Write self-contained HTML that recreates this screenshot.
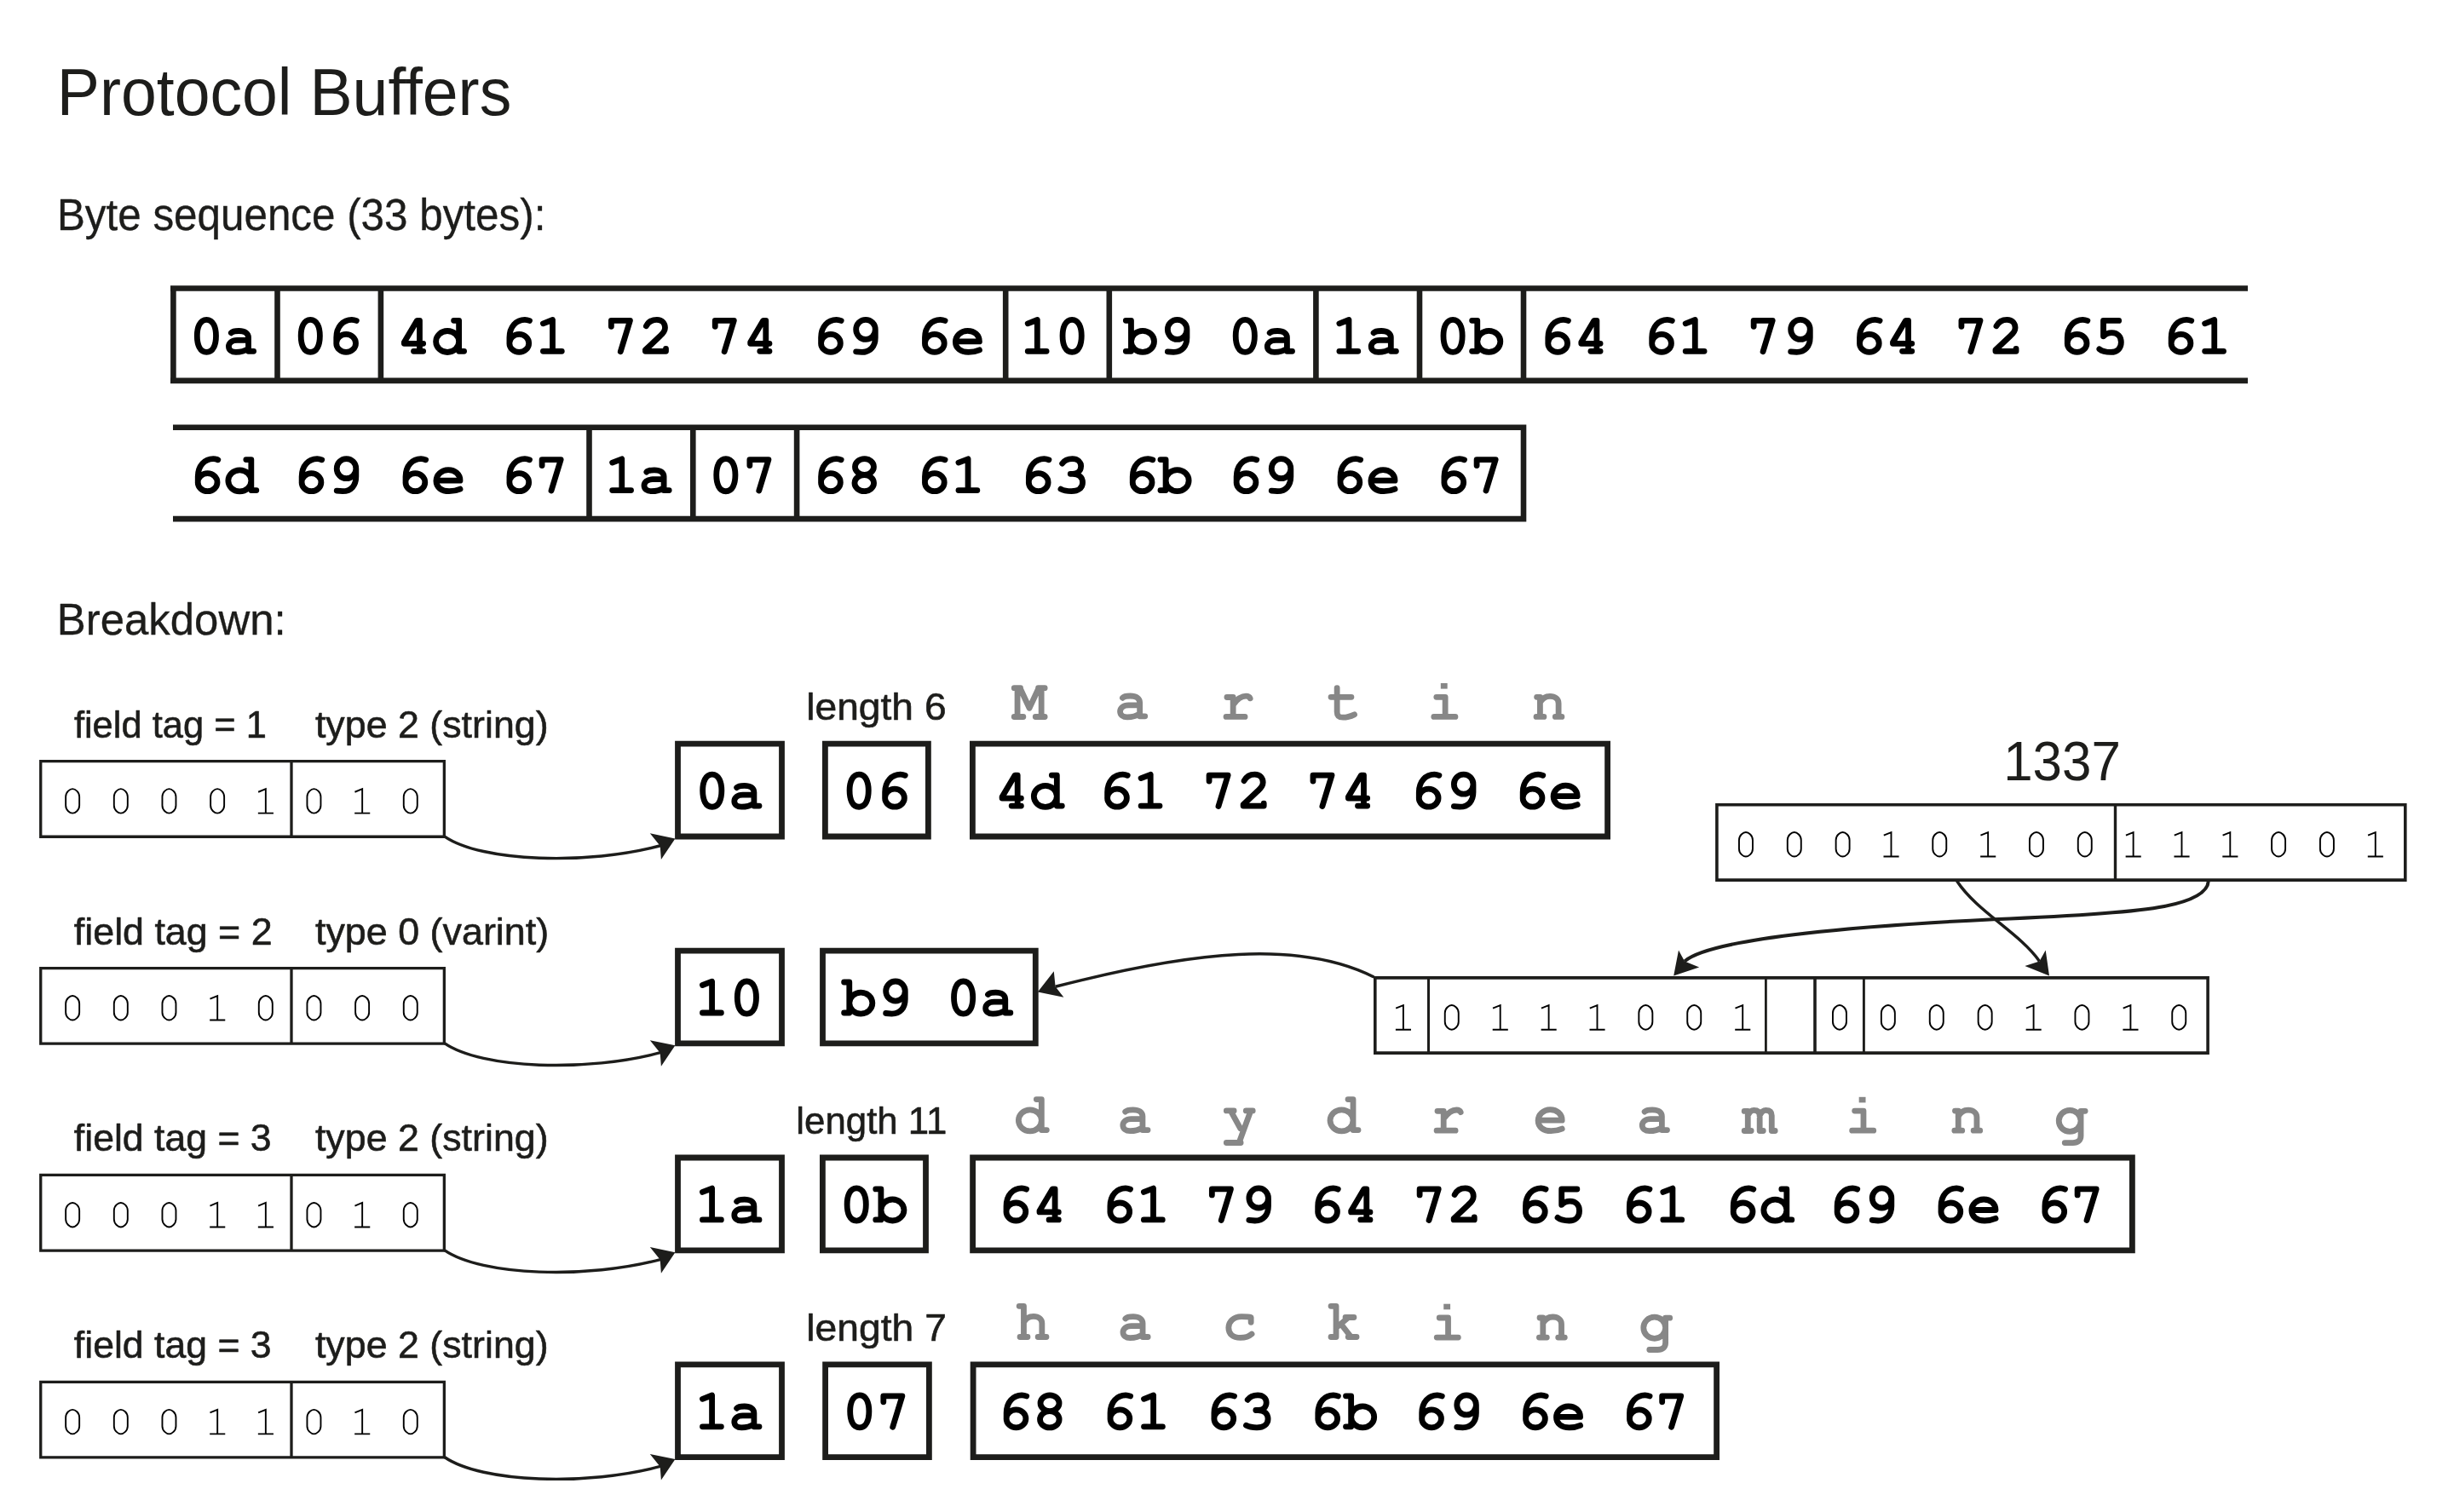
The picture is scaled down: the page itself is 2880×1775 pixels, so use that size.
<!DOCTYPE html>
<html><head><meta charset="utf-8"><style>
html,body{margin:0;padding:0;background:#fff;}
body{width:2880px;height:1775px;overflow:hidden;}
svg{display:block;will-change:transform;}
</style></head><body>
<svg width="2880" height="1775" viewBox="0 0 2880 1775">
<defs><g id="g_0"><path d="M18.7 -41 C26.5 -41, 29.8 -32, 29.8 -22 C29.8 -11.5, 26.5 -2.86, 18.7 -2.86 C10.9 -2.86, 7.6 -11.5, 7.6 -22 C7.6 -32, 10.9 -41, 18.7 -41 Z" fill="none" stroke="currentColor" stroke-width="6.8" stroke-linecap="round" stroke-linejoin="round"/></g>
<g id="g_1"><path d="M7.4 -36.5 L18.5 -40.8 L18.5 -4 M7.4 -4 L29.3 -4" fill="none" stroke="currentColor" stroke-width="6.8" stroke-linecap="round" stroke-linejoin="round"/></g>
<g id="g_2"><path d="M6.5 -33.5 C9 -38.5, 13 -41, 19 -41 C25.5 -41, 28.6 -36.5, 28.6 -31.5 C28.6 -27.5, 26.5 -25, 22.5 -21.5 L5.5 -5.5 L5.5 -4 L29.6 -4 L29.6 -7" fill="none" stroke="currentColor" stroke-width="6.8" stroke-linecap="round" stroke-linejoin="round"/></g>
<g id="g_3"><path d="M7.2 -35.5 C10 -39.5, 14 -41, 19 -41 C25.5 -41, 29.2 -37, 29.2 -32.3 C29.2 -27, 25 -23.3, 19.5 -23.3 L16.8 -23.3 M19.5 -23.3 C27 -23.3, 31.1 -19, 31.1 -13 C31.1 -7, 26 -2.9, 18 -2.9 C12 -2.9, 8.5 -3.8, 5.5 -5.5" fill="none" stroke="currentColor" stroke-width="6.8" stroke-linecap="round" stroke-linejoin="round"/></g>
<g id="g_4"><path d="M25 -40 L25 -4 M18 -4 L29.2 -4 M6.9 -13 L29.2 -13 M25 -40 L22 -40 L6.9 -14.5 L6.9 -13" fill="none" stroke="currentColor" stroke-width="6.8" stroke-linecap="round" stroke-linejoin="round"/></g>
<g id="g_5"><path d="M28.3 -39.9 L10.15 -39.9 L10.15 -21.5 C13 -24.5, 16 -25.75, 20 -25.75 C27 -25.75, 31 -21, 31 -14.5 C31 -7, 26 -2.9, 19 -2.9 C12 -2.9, 8.5 -4, 5.5 -6.5" fill="none" stroke="currentColor" stroke-width="6.8" stroke-linecap="round" stroke-linejoin="round"/></g>
<g id="g_6"><path d="M8.50 -13.40 A11.4 10.5 0 1 0 31.30 -13.40 A11.4 10.5 0 1 0 8.50 -13.40 Z M8.55 -13 L8.55 -20 C8.55 -33, 16.6 -41, 26.6 -41 C29 -41, 30.6 -40.5, 32.1 -39.8" fill="none" stroke="currentColor" stroke-width="6.8" stroke-linecap="round" stroke-linejoin="round"/></g>
<g id="g_7"><path d="M6.1 -33 L6.1 -40 L28.2 -40 L17 -3.5" fill="none" stroke="currentColor" stroke-width="6.8" stroke-linecap="round" stroke-linejoin="round"/></g>
<g id="g_8"><path d="M7.80 -31.60 A11 9.4 0 1 0 29.80 -31.60 A11 9.4 0 1 0 7.80 -31.60 Z M7.30 -12.50 A11.3 9.6 0 1 0 29.90 -12.50 A11.3 9.6 0 1 0 7.30 -12.50 Z" fill="none" stroke="currentColor" stroke-width="6.8" stroke-linecap="round" stroke-linejoin="round"/></g>
<g id="g_9"><path d="M9.00 -29.45 A11.3 11.55 0 1 0 31.60 -29.45 A11.3 11.55 0 1 0 9.00 -29.45 Z M31.6 -29 L31.6 -20 C31.6 -10, 26 -2.9, 16 -2.9 L9 -3.5" fill="none" stroke="currentColor" stroke-width="6.8" stroke-linecap="round" stroke-linejoin="round"/></g>
<g id="g_a"><path d="M7 -25.5 C9 -27.8, 12 -27.8, 16 -27.8 C23 -27.8, 27.2 -25, 27.2 -20 L27.2 -4 L33.3 -4 M27.2 -16.9 L14 -16.9 C7.5 -16.9, 4.1 -13.5, 4.1 -9.5 C4.1 -5.5, 7.5 -2.9, 12.5 -2.9 C18.5 -2.9, 23.5 -4.5, 27.2 -7" fill="none" stroke="currentColor" stroke-width="6.8" stroke-linecap="round" stroke-linejoin="round"/></g>
<g id="g_b"><path d="M6.75 -40 L6.75 -4 M0.6 -40 L6.75 -40 M0.6 -4 L6.75 -4 M6.80 -15.40 A13.5 12.5 0 1 0 33.80 -15.40 A13.5 12.5 0 1 0 6.80 -15.40 Z" fill="none" stroke="currentColor" stroke-width="6.8" stroke-linecap="round" stroke-linejoin="round"/></g>
<g id="g_c"><path d="M32.4 -21.2 L32.4 -27 C29 -28, 25 -27.9, 21 -27.9 C12 -27.9, 6.1 -22, 6.1 -15 C6.1 -7.5, 11 -3.1, 20 -3.1 C26 -3.1, 30 -4.5, 33.3 -7.5" fill="none" stroke="currentColor" stroke-width="6.8" stroke-linecap="round" stroke-linejoin="round"/></g>
<g id="g_d"><path d="M30.5 -40 L30.5 -4 M24.5 -40 L30.5 -40 M30.5 -4 L36.5 -4 M3.50 -15.30 A13.5 12.5 0 1 0 30.50 -15.30 A13.5 12.5 0 1 0 3.50 -15.30 Z" fill="none" stroke="currentColor" stroke-width="6.8" stroke-linecap="round" stroke-linejoin="round"/></g>
<g id="g_e"><path d="M3.8 -15.4 L31.9 -15.4 C31.9 -23, 26 -27.9, 18 -27.9 C10 -27.9, 3.8 -22, 3.8 -15 C3.8 -7.5, 10 -2.9, 19 -2.9 C24 -2.9, 28 -3.8, 31.9 -5.5" fill="none" stroke="currentColor" stroke-width="6.8" stroke-linecap="round" stroke-linejoin="round"/></g>
<g id="g_g"><path d="M5.50 -14.75 A12.9 12.55 0 1 0 31.30 -14.75 A12.9 12.55 0 1 0 5.50 -14.75 Z M31.3 -26.3 L36.4 -26.3 M31.3 -26.3 L31.3 3 C31.3 8, 28 11, 22 11 L12.5 11" fill="none" stroke="currentColor" stroke-width="6.8" stroke-linecap="round" stroke-linejoin="round"/></g>
<g id="g_h"><path d="M9.5 -40.2 L9.5 -4 M4.2 -40.2 L9.5 -40.2 M5.1 -4 L14 -4 M9.5 -21 C12 -26, 16 -28.1, 21 -28.1 C27 -28.1, 30.9 -25, 30.9 -20 L30.9 -4 M26.2 -4 L36 -4" fill="none" stroke="currentColor" stroke-width="6.8" stroke-linecap="round" stroke-linejoin="round"/></g>
<g id="g_i"><path d="M20 -26.5 L20 -3.4 M9.7 -26.5 L20 -26.5 M6.7 -3.4 L31.8 -3.4" fill="none" stroke="currentColor" stroke-width="6.8" stroke-linecap="round" stroke-linejoin="round"/><rect x="14.7" y="-42.8" width="7.85" height="6.6" fill="currentColor" stroke="none"/></g>
<g id="g_k"><path d="M10.4 -40.2 L10.4 -4 M4.4 -40.2 L10.4 -40.2 M4.4 -4 L10.4 -4 M21.4 -27 L31.3 -27 M12 -16 L25 -27 M17 -18 L28 -4 M24.6 -4 L34.4 -4" fill="none" stroke="currentColor" stroke-width="6.8" stroke-linecap="round" stroke-linejoin="round"/></g>
<g id="g_m"><path d="M6.2 -26.2 L6.2 -3.1 M2.1 -26.2 L6.2 -26.2 M2.1 -3.1 L10.1 -3.1 M6.2 -21 C8 -25, 10 -27.3, 13.2 -27.3 C18 -27.3, 20.1 -25, 20.1 -21 L20.1 -3.1 L24.2 -3.1 M20.1 -21 C22 -25, 24 -27.3, 27.2 -27.3 C32 -27.3, 34.2 -25, 34.2 -21 L34.2 -3.1 L38.1 -3.1" fill="none" stroke="currentColor" stroke-width="6.8" stroke-linecap="round" stroke-linejoin="round"/></g>
<g id="g_n"><path d="M9.4 -26.5 L9.4 -3.4 M5.6 -26.5 L9.4 -26.5 M5 -3.4 L13.9 -3.4 M27.3 -3.4 L34.9 -3.4 M9.4 -20 C12 -25, 16 -27.5, 21 -27.5 C27 -27.5, 31.1 -24, 31.1 -19 L31.1 -3.4" fill="none" stroke="currentColor" stroke-width="6.8" stroke-linecap="round" stroke-linejoin="round"/></g>
<g id="g_r"><path d="M14.8 -26.3 L14.8 -3.4 M7.6 -26.3 L14.8 -26.3 M6.7 -3.4 L28.7 -3.4 M15.5 -18 C19 -23, 24 -27.6, 30 -27.6 C32.5 -27.6, 34 -26.8, 34.8 -25" fill="none" stroke="currentColor" stroke-width="6.8" stroke-linecap="round" stroke-linejoin="round"/></g>
<g id="g_t"><path d="M14.9 -37.2 L14.9 -9 C14.9 -4.5, 17 -2.6, 22 -2.6 C27 -2.6, 31 -4, 35.3 -6 M7.8 -26.5 L31.7 -26.5" fill="none" stroke="currentColor" stroke-width="6.8" stroke-linecap="round" stroke-linejoin="round"/></g>
<g id="g_y"><path d="M3.7 -26.7 L12.5 -26.7 M26.7 -26.7 L34.6 -26.7 M9 -26 L20 -6 M32 -26 L18.5 10.9 M3.7 10.9 L20.5 10.9" fill="none" stroke="currentColor" stroke-width="6.8" stroke-linecap="round" stroke-linejoin="round"/></g>
<g id="g_UM"><path d="M5.5 -37.1 L5.5 -3.3 M1.7 -37.1 L9 -37.1 M1.7 -3.3 L12.3 -3.3 M33.6 -37.1 L33.6 -3.3 M30 -37.1 L37.6 -37.1 M26.7 -3.3 L37.6 -3.3 M9 -36 L19.5 -13.5 L30 -36" fill="none" stroke="currentColor" stroke-width="6.8" stroke-linecap="round" stroke-linejoin="round"/></g></defs>
<rect width="2880" height="1775" fill="#fff"/>
<text transform="matrix(0.9764,0,0,1,66.83,134.80)" font-family="&quot;Liberation Sans&quot;, sans-serif" font-size="77.00" fill="#1d1d1b">Protocol Buffers</text>
<text transform="matrix(0.9495,0,0,1,66.92,269.90)" font-family="&quot;Liberation Sans&quot;, sans-serif" font-size="52.00" fill="#1d1d1b" stroke="#1d1d1b" stroke-width="0.35" stroke-linejoin="round">Byte sequence (33 bytes):</text>
<text transform="matrix(0.9792,0,0,1,66.80,745.00)" font-family="&quot;Liberation Sans&quot;, sans-serif" font-size="52.00" fill="#1d1d1b" stroke="#1d1d1b" stroke-width="0.35" stroke-linejoin="round">Breakdown:</text>
<use href="#g_0" x="223.70" y="416.30" color="#000"/>
<use href="#g_a" x="264.33" y="416.30" color="#000"/>
<use href="#g_0" x="345.59" y="416.30" color="#000"/>
<use href="#g_6" x="386.22" y="416.30" color="#000"/>
<use href="#g_4" x="467.48" y="416.30" color="#000"/>
<use href="#g_d" x="508.11" y="416.30" color="#000"/>
<use href="#g_6" x="589.37" y="416.30" color="#000"/>
<use href="#g_1" x="630.00" y="416.30" color="#000"/>
<use href="#g_7" x="711.26" y="416.30" color="#000"/>
<use href="#g_2" x="751.89" y="416.30" color="#000"/>
<use href="#g_7" x="833.15" y="416.30" color="#000"/>
<use href="#g_4" x="873.78" y="416.30" color="#000"/>
<use href="#g_6" x="955.04" y="416.30" color="#000"/>
<use href="#g_9" x="995.67" y="416.30" color="#000"/>
<use href="#g_6" x="1076.93" y="416.30" color="#000"/>
<use href="#g_e" x="1117.56" y="416.30" color="#000"/>
<use href="#g_1" x="1198.82" y="416.30" color="#000"/>
<use href="#g_0" x="1239.45" y="416.30" color="#000"/>
<use href="#g_b" x="1320.71" y="416.30" color="#000"/>
<use href="#g_9" x="1361.34" y="416.30" color="#000"/>
<use href="#g_0" x="1442.60" y="416.30" color="#000"/>
<use href="#g_a" x="1483.23" y="416.30" color="#000"/>
<use href="#g_1" x="1564.49" y="416.30" color="#000"/>
<use href="#g_a" x="1605.12" y="416.30" color="#000"/>
<use href="#g_0" x="1686.38" y="416.30" color="#000"/>
<use href="#g_b" x="1727.01" y="416.30" color="#000"/>
<use href="#g_6" x="1808.27" y="416.30" color="#000"/>
<use href="#g_4" x="1848.90" y="416.30" color="#000"/>
<use href="#g_6" x="1930.16" y="416.30" color="#000"/>
<use href="#g_1" x="1970.79" y="416.30" color="#000"/>
<use href="#g_7" x="2052.05" y="416.30" color="#000"/>
<use href="#g_9" x="2092.68" y="416.30" color="#000"/>
<use href="#g_6" x="2173.94" y="416.30" color="#000"/>
<use href="#g_4" x="2214.57" y="416.30" color="#000"/>
<use href="#g_7" x="2295.83" y="416.30" color="#000"/>
<use href="#g_2" x="2336.46" y="416.30" color="#000"/>
<use href="#g_6" x="2417.72" y="416.30" color="#000"/>
<use href="#g_5" x="2458.35" y="416.30" color="#000"/>
<use href="#g_6" x="2539.61" y="416.30" color="#000"/>
<use href="#g_1" x="2580.24" y="416.30" color="#000"/>
<use href="#g_6" x="223.70" y="579.60" color="#000"/>
<use href="#g_d" x="264.33" y="579.60" color="#000"/>
<use href="#g_6" x="345.59" y="579.60" color="#000"/>
<use href="#g_9" x="386.22" y="579.60" color="#000"/>
<use href="#g_6" x="467.48" y="579.60" color="#000"/>
<use href="#g_e" x="508.11" y="579.60" color="#000"/>
<use href="#g_6" x="589.37" y="579.60" color="#000"/>
<use href="#g_7" x="630.00" y="579.60" color="#000"/>
<use href="#g_1" x="711.26" y="579.60" color="#000"/>
<use href="#g_a" x="751.89" y="579.60" color="#000"/>
<use href="#g_0" x="833.15" y="579.60" color="#000"/>
<use href="#g_7" x="873.78" y="579.60" color="#000"/>
<use href="#g_6" x="955.04" y="579.60" color="#000"/>
<use href="#g_8" x="995.67" y="579.60" color="#000"/>
<use href="#g_6" x="1076.93" y="579.60" color="#000"/>
<use href="#g_1" x="1117.56" y="579.60" color="#000"/>
<use href="#g_6" x="1198.82" y="579.60" color="#000"/>
<use href="#g_3" x="1239.45" y="579.60" color="#000"/>
<use href="#g_6" x="1320.71" y="579.60" color="#000"/>
<use href="#g_b" x="1361.34" y="579.60" color="#000"/>
<use href="#g_6" x="1442.60" y="579.60" color="#000"/>
<use href="#g_9" x="1483.23" y="579.60" color="#000"/>
<use href="#g_6" x="1564.49" y="579.60" color="#000"/>
<use href="#g_e" x="1605.12" y="579.60" color="#000"/>
<use href="#g_6" x="1686.38" y="579.60" color="#000"/>
<use href="#g_7" x="1727.01" y="579.60" color="#000"/>
<text transform="matrix(0.9660,0,0,1,86.88,866.20)" font-family="&quot;Liberation Sans&quot;, sans-serif" font-size="45.00" fill="#1d1d1b" stroke="#1d1d1b" stroke-width="0.6" stroke-linejoin="round">field tag = 1</text>
<text transform="matrix(0.9951,0,0,1,369.92,866.20)" font-family="&quot;Liberation Sans&quot;, sans-serif" font-size="45.00" fill="#1d1d1b" stroke="#1d1d1b" stroke-width="0.6" stroke-linejoin="round">type 2 (string)</text>
<path d="M77.15 935.30 L77.15 945.50 C77.15 951.17 82.11 954.65 85.15 954.65 C88.19 954.65 93.15 951.17 93.15 945.50 L93.15 935.30 C93.15 929.63 88.19 926.15 85.15 926.15 C82.11 926.15 77.15 929.63 77.15 935.30 Z" fill="none" stroke="#000" stroke-width="1.9"/>
<path d="M133.81 935.30 L133.81 945.50 C133.81 951.17 138.77 954.65 141.81 954.65 C144.85 954.65 149.81 951.17 149.81 945.50 L149.81 935.30 C149.81 929.63 144.85 926.15 141.81 926.15 C138.77 926.15 133.81 929.63 133.81 935.30 Z" fill="none" stroke="#000" stroke-width="1.9"/>
<path d="M190.47 935.30 L190.47 945.50 C190.47 951.17 195.43 954.65 198.47 954.65 C201.51 954.65 206.47 951.17 206.47 945.50 L206.47 935.30 C206.47 929.63 201.51 926.15 198.47 926.15 C195.43 926.15 190.47 929.63 190.47 935.30 Z" fill="none" stroke="#000" stroke-width="1.9"/>
<path d="M247.13 935.30 L247.13 945.50 C247.13 951.17 252.09 954.65 255.13 954.65 C258.17 954.65 263.13 951.17 263.13 945.50 L263.13 935.30 C263.13 929.63 258.17 926.15 255.13 926.15 C252.09 926.15 247.13 929.63 247.13 935.30 Z" fill="none" stroke="#000" stroke-width="1.9"/>
<path d="M303.14 929.75 L311.84 926.15 L311.84 954.65 M302.84 954.65 L320.94 954.65" fill="none" stroke="#000" stroke-width="1.9" stroke-linejoin="miter"/>
<path d="M360.45 935.30 L360.45 945.50 C360.45 951.17 365.41 954.65 368.45 954.65 C371.49 954.65 376.45 951.17 376.45 945.50 L376.45 935.30 C376.45 929.63 371.49 926.15 368.45 926.15 C365.41 926.15 360.45 929.63 360.45 935.30 Z" fill="none" stroke="#000" stroke-width="1.9"/>
<path d="M416.46 929.75 L425.16 926.15 L425.16 954.65 M416.16 954.65 L434.26 954.65" fill="none" stroke="#000" stroke-width="1.9" stroke-linejoin="miter"/>
<path d="M473.77 935.30 L473.77 945.50 C473.77 951.17 478.73 954.65 481.77 954.65 C484.81 954.65 489.77 951.17 489.77 945.50 L489.77 935.30 C489.77 929.63 484.81 926.15 481.77 926.15 C478.73 926.15 473.77 929.63 473.77 935.30 Z" fill="none" stroke="#000" stroke-width="1.9"/>
<path d="M521.6 981.80 C565 1012.00, 690 1016.00, 776 992.50" fill="none" stroke="#1d1d1b" stroke-width="3.4"/>
<path d="M792.40 984.40 L762.80 978.30 L774.70 993.00 L775.90 1008.90 Z" fill="#1d1d1b"/>
<use href="#g_0" x="817.07" y="950.10" color="#000"/>
<use href="#g_a" x="857.70" y="950.10" color="#000"/>
<use href="#g_0" x="989.47" y="950.10" color="#000"/>
<use href="#g_6" x="1030.10" y="950.10" color="#000"/>
<use href="#g_4" x="1169.19" y="950.10" color="#000"/>
<use href="#g_d" x="1209.83" y="950.10" color="#000"/>
<use href="#g_6" x="1291.09" y="950.10" color="#000"/>
<use href="#g_1" x="1331.71" y="950.10" color="#000"/>
<use href="#g_7" x="1412.97" y="950.10" color="#000"/>
<use href="#g_2" x="1453.61" y="950.10" color="#000"/>
<use href="#g_7" x="1534.87" y="950.10" color="#000"/>
<use href="#g_4" x="1575.49" y="950.10" color="#000"/>
<use href="#g_6" x="1656.76" y="950.10" color="#000"/>
<use href="#g_9" x="1697.38" y="950.10" color="#000"/>
<use href="#g_6" x="1778.64" y="950.10" color="#000"/>
<use href="#g_e" x="1819.28" y="950.10" color="#000"/>
<use href="#g_UM" x="1188.56" y="844.80" color="#878787"/>
<use href="#g_a" x="1310.45" y="844.80" color="#878787"/>
<use href="#g_r" x="1432.34" y="844.80" color="#878787"/>
<use href="#g_t" x="1554.23" y="844.80" color="#878787"/>
<use href="#g_i" x="1676.12" y="844.80" color="#878787"/>
<use href="#g_n" x="1798.01" y="844.80" color="#878787"/>
<text transform="matrix(1.0268,0,0,1,946.19,844.80)" font-family="&quot;Liberation Sans&quot;, sans-serif" font-size="45.00" fill="#1d1d1b" stroke="#1d1d1b" stroke-width="0.6" stroke-linejoin="round">length 6</text>
<text transform="matrix(0.9952,0,0,1,86.87,1108.60)" font-family="&quot;Liberation Sans&quot;, sans-serif" font-size="45.00" fill="#1d1d1b" stroke="#1d1d1b" stroke-width="0.6" stroke-linejoin="round">field tag = 2</text>
<text transform="matrix(0.9973,0,0,1,369.92,1108.60)" font-family="&quot;Liberation Sans&quot;, sans-serif" font-size="45.00" fill="#1d1d1b" stroke="#1d1d1b" stroke-width="0.6" stroke-linejoin="round">type 0 (varint)</text>
<path d="M77.15 1178.20 L77.15 1188.40 C77.15 1194.07 82.11 1197.55 85.15 1197.55 C88.19 1197.55 93.15 1194.07 93.15 1188.40 L93.15 1178.20 C93.15 1172.53 88.19 1169.05 85.15 1169.05 C82.11 1169.05 77.15 1172.53 77.15 1178.20 Z" fill="none" stroke="#000" stroke-width="1.9"/>
<path d="M133.81 1178.20 L133.81 1188.40 C133.81 1194.07 138.77 1197.55 141.81 1197.55 C144.85 1197.55 149.81 1194.07 149.81 1188.40 L149.81 1178.20 C149.81 1172.53 144.85 1169.05 141.81 1169.05 C138.77 1169.05 133.81 1172.53 133.81 1178.20 Z" fill="none" stroke="#000" stroke-width="1.9"/>
<path d="M190.47 1178.20 L190.47 1188.40 C190.47 1194.07 195.43 1197.55 198.47 1197.55 C201.51 1197.55 206.47 1194.07 206.47 1188.40 L206.47 1178.20 C206.47 1172.53 201.51 1169.05 198.47 1169.05 C195.43 1169.05 190.47 1172.53 190.47 1178.20 Z" fill="none" stroke="#000" stroke-width="1.9"/>
<path d="M246.48 1172.65 L255.18 1169.05 L255.18 1197.55 M246.18 1197.55 L264.28 1197.55" fill="none" stroke="#000" stroke-width="1.9" stroke-linejoin="miter"/>
<path d="M303.79 1178.20 L303.79 1188.40 C303.79 1194.07 308.75 1197.55 311.79 1197.55 C314.83 1197.55 319.79 1194.07 319.79 1188.40 L319.79 1178.20 C319.79 1172.53 314.83 1169.05 311.79 1169.05 C308.75 1169.05 303.79 1172.53 303.79 1178.20 Z" fill="none" stroke="#000" stroke-width="1.9"/>
<path d="M360.45 1178.20 L360.45 1188.40 C360.45 1194.07 365.41 1197.55 368.45 1197.55 C371.49 1197.55 376.45 1194.07 376.45 1188.40 L376.45 1178.20 C376.45 1172.53 371.49 1169.05 368.45 1169.05 C365.41 1169.05 360.45 1172.53 360.45 1178.20 Z" fill="none" stroke="#000" stroke-width="1.9"/>
<path d="M417.11 1178.20 L417.11 1188.40 C417.11 1194.07 422.07 1197.55 425.11 1197.55 C428.15 1197.55 433.11 1194.07 433.11 1188.40 L433.11 1178.20 C433.11 1172.53 428.15 1169.05 425.11 1169.05 C422.07 1169.05 417.11 1172.53 417.11 1178.20 Z" fill="none" stroke="#000" stroke-width="1.9"/>
<path d="M473.77 1178.20 L473.77 1188.40 C473.77 1194.07 478.73 1197.55 481.77 1197.55 C484.81 1197.55 489.77 1194.07 489.77 1188.40 L489.77 1178.20 C489.77 1172.53 484.81 1169.05 481.77 1169.05 C478.73 1169.05 473.77 1172.53 473.77 1178.20 Z" fill="none" stroke="#000" stroke-width="1.9"/>
<path d="M521.6 1224.70 C565 1254.90, 690 1258.90, 776 1235.40" fill="none" stroke="#1d1d1b" stroke-width="3.4"/>
<path d="M792.40 1227.30 L762.80 1221.20 L774.70 1235.90 L775.90 1251.80 Z" fill="#1d1d1b"/>
<use href="#g_1" x="817.07" y="1193.00" color="#000"/>
<use href="#g_0" x="857.70" y="1193.00" color="#000"/>
<use href="#g_b" x="990.03" y="1193.00" color="#000"/>
<use href="#g_9" x="1030.66" y="1193.00" color="#000"/>
<use href="#g_0" x="1111.92" y="1193.00" color="#000"/>
<use href="#g_a" x="1152.55" y="1193.00" color="#000"/>
<text transform="matrix(0.9909,0,0,1,86.87,1351.10)" font-family="&quot;Liberation Sans&quot;, sans-serif" font-size="45.00" fill="#1d1d1b" stroke="#1d1d1b" stroke-width="0.6" stroke-linejoin="round">field tag = 3</text>
<text transform="matrix(0.9951,0,0,1,369.92,1351.10)" font-family="&quot;Liberation Sans&quot;, sans-serif" font-size="45.00" fill="#1d1d1b" stroke="#1d1d1b" stroke-width="0.6" stroke-linejoin="round">type 2 (string)</text>
<path d="M77.15 1421.10 L77.15 1431.30 C77.15 1436.97 82.11 1440.45 85.15 1440.45 C88.19 1440.45 93.15 1436.97 93.15 1431.30 L93.15 1421.10 C93.15 1415.43 88.19 1411.95 85.15 1411.95 C82.11 1411.95 77.15 1415.43 77.15 1421.10 Z" fill="none" stroke="#000" stroke-width="1.9"/>
<path d="M133.81 1421.10 L133.81 1431.30 C133.81 1436.97 138.77 1440.45 141.81 1440.45 C144.85 1440.45 149.81 1436.97 149.81 1431.30 L149.81 1421.10 C149.81 1415.43 144.85 1411.95 141.81 1411.95 C138.77 1411.95 133.81 1415.43 133.81 1421.10 Z" fill="none" stroke="#000" stroke-width="1.9"/>
<path d="M190.47 1421.10 L190.47 1431.30 C190.47 1436.97 195.43 1440.45 198.47 1440.45 C201.51 1440.45 206.47 1436.97 206.47 1431.30 L206.47 1421.10 C206.47 1415.43 201.51 1411.95 198.47 1411.95 C195.43 1411.95 190.47 1415.43 190.47 1421.10 Z" fill="none" stroke="#000" stroke-width="1.9"/>
<path d="M246.48 1415.55 L255.18 1411.95 L255.18 1440.45 M246.18 1440.45 L264.28 1440.45" fill="none" stroke="#000" stroke-width="1.9" stroke-linejoin="miter"/>
<path d="M303.14 1415.55 L311.84 1411.95 L311.84 1440.45 M302.84 1440.45 L320.94 1440.45" fill="none" stroke="#000" stroke-width="1.9" stroke-linejoin="miter"/>
<path d="M360.45 1421.10 L360.45 1431.30 C360.45 1436.97 365.41 1440.45 368.45 1440.45 C371.49 1440.45 376.45 1436.97 376.45 1431.30 L376.45 1421.10 C376.45 1415.43 371.49 1411.95 368.45 1411.95 C365.41 1411.95 360.45 1415.43 360.45 1421.10 Z" fill="none" stroke="#000" stroke-width="1.9"/>
<path d="M416.46 1415.55 L425.16 1411.95 L425.16 1440.45 M416.16 1440.45 L434.26 1440.45" fill="none" stroke="#000" stroke-width="1.9" stroke-linejoin="miter"/>
<path d="M473.77 1421.10 L473.77 1431.30 C473.77 1436.97 478.73 1440.45 481.77 1440.45 C484.81 1440.45 489.77 1436.97 489.77 1431.30 L489.77 1421.10 C489.77 1415.43 484.81 1411.95 481.77 1411.95 C478.73 1411.95 473.77 1415.43 473.77 1421.10 Z" fill="none" stroke="#000" stroke-width="1.9"/>
<path d="M521.6 1467.60 C565 1497.80, 690 1501.80, 776 1478.30" fill="none" stroke="#1d1d1b" stroke-width="3.4"/>
<path d="M792.40 1470.20 L762.80 1464.10 L774.70 1478.80 L775.90 1494.70 Z" fill="#1d1d1b"/>
<use href="#g_1" x="817.07" y="1435.90" color="#000"/>
<use href="#g_a" x="857.70" y="1435.90" color="#000"/>
<use href="#g_0" x="986.52" y="1435.90" color="#000"/>
<use href="#g_b" x="1027.15" y="1435.90" color="#000"/>
<use href="#g_6" x="1172.47" y="1435.90" color="#000"/>
<use href="#g_4" x="1213.10" y="1435.90" color="#000"/>
<use href="#g_6" x="1294.36" y="1435.90" color="#000"/>
<use href="#g_1" x="1334.99" y="1435.90" color="#000"/>
<use href="#g_7" x="1416.25" y="1435.90" color="#000"/>
<use href="#g_9" x="1456.88" y="1435.90" color="#000"/>
<use href="#g_6" x="1538.14" y="1435.90" color="#000"/>
<use href="#g_4" x="1578.77" y="1435.90" color="#000"/>
<use href="#g_7" x="1660.03" y="1435.90" color="#000"/>
<use href="#g_2" x="1700.66" y="1435.90" color="#000"/>
<use href="#g_6" x="1781.92" y="1435.90" color="#000"/>
<use href="#g_5" x="1822.55" y="1435.90" color="#000"/>
<use href="#g_6" x="1903.81" y="1435.90" color="#000"/>
<use href="#g_1" x="1944.44" y="1435.90" color="#000"/>
<use href="#g_6" x="2025.70" y="1435.90" color="#000"/>
<use href="#g_d" x="2066.33" y="1435.90" color="#000"/>
<use href="#g_6" x="2147.59" y="1435.90" color="#000"/>
<use href="#g_9" x="2188.22" y="1435.90" color="#000"/>
<use href="#g_6" x="2269.48" y="1435.90" color="#000"/>
<use href="#g_e" x="2310.11" y="1435.90" color="#000"/>
<use href="#g_6" x="2391.37" y="1435.90" color="#000"/>
<use href="#g_7" x="2432.00" y="1435.90" color="#000"/>
<use href="#g_d" x="1191.84" y="1330.60" color="#878787"/>
<use href="#g_a" x="1313.73" y="1330.60" color="#878787"/>
<use href="#g_y" x="1435.62" y="1330.60" color="#878787"/>
<use href="#g_d" x="1557.51" y="1330.60" color="#878787"/>
<use href="#g_r" x="1679.39" y="1330.60" color="#878787"/>
<use href="#g_e" x="1801.29" y="1330.60" color="#878787"/>
<use href="#g_a" x="1923.18" y="1330.60" color="#878787"/>
<use href="#g_m" x="2045.07" y="1330.60" color="#878787"/>
<use href="#g_i" x="2166.96" y="1330.60" color="#878787"/>
<use href="#g_n" x="2288.85" y="1330.60" color="#878787"/>
<use href="#g_g" x="2410.74" y="1330.60" color="#878787"/>
<text transform="matrix(0.9732,0,0,1,934.35,1330.60)" font-family="&quot;Liberation Sans&quot;, sans-serif" font-size="45.00" fill="#1d1d1b" stroke="#1d1d1b" stroke-width="0.6" stroke-linejoin="round">length 11</text>
<text transform="matrix(0.9909,0,0,1,86.87,1594.10)" font-family="&quot;Liberation Sans&quot;, sans-serif" font-size="45.00" fill="#1d1d1b" stroke="#1d1d1b" stroke-width="0.6" stroke-linejoin="round">field tag = 3</text>
<text transform="matrix(0.9951,0,0,1,369.92,1594.10)" font-family="&quot;Liberation Sans&quot;, sans-serif" font-size="45.00" fill="#1d1d1b" stroke="#1d1d1b" stroke-width="0.6" stroke-linejoin="round">type 2 (string)</text>
<path d="M77.15 1664.00 L77.15 1674.20 C77.15 1679.87 82.11 1683.35 85.15 1683.35 C88.19 1683.35 93.15 1679.87 93.15 1674.20 L93.15 1664.00 C93.15 1658.33 88.19 1654.85 85.15 1654.85 C82.11 1654.85 77.15 1658.33 77.15 1664.00 Z" fill="none" stroke="#000" stroke-width="1.9"/>
<path d="M133.81 1664.00 L133.81 1674.20 C133.81 1679.87 138.77 1683.35 141.81 1683.35 C144.85 1683.35 149.81 1679.87 149.81 1674.20 L149.81 1664.00 C149.81 1658.33 144.85 1654.85 141.81 1654.85 C138.77 1654.85 133.81 1658.33 133.81 1664.00 Z" fill="none" stroke="#000" stroke-width="1.9"/>
<path d="M190.47 1664.00 L190.47 1674.20 C190.47 1679.87 195.43 1683.35 198.47 1683.35 C201.51 1683.35 206.47 1679.87 206.47 1674.20 L206.47 1664.00 C206.47 1658.33 201.51 1654.85 198.47 1654.85 C195.43 1654.85 190.47 1658.33 190.47 1664.00 Z" fill="none" stroke="#000" stroke-width="1.9"/>
<path d="M246.48 1658.45 L255.18 1654.85 L255.18 1683.35 M246.18 1683.35 L264.28 1683.35" fill="none" stroke="#000" stroke-width="1.9" stroke-linejoin="miter"/>
<path d="M303.14 1658.45 L311.84 1654.85 L311.84 1683.35 M302.84 1683.35 L320.94 1683.35" fill="none" stroke="#000" stroke-width="1.9" stroke-linejoin="miter"/>
<path d="M360.45 1664.00 L360.45 1674.20 C360.45 1679.87 365.41 1683.35 368.45 1683.35 C371.49 1683.35 376.45 1679.87 376.45 1674.20 L376.45 1664.00 C376.45 1658.33 371.49 1654.85 368.45 1654.85 C365.41 1654.85 360.45 1658.33 360.45 1664.00 Z" fill="none" stroke="#000" stroke-width="1.9"/>
<path d="M416.46 1658.45 L425.16 1654.85 L425.16 1683.35 M416.16 1683.35 L434.26 1683.35" fill="none" stroke="#000" stroke-width="1.9" stroke-linejoin="miter"/>
<path d="M473.77 1664.00 L473.77 1674.20 C473.77 1679.87 478.73 1683.35 481.77 1683.35 C484.81 1683.35 489.77 1679.87 489.77 1674.20 L489.77 1664.00 C489.77 1658.33 484.81 1654.85 481.77 1654.85 C478.73 1654.85 473.77 1658.33 473.77 1664.00 Z" fill="none" stroke="#000" stroke-width="1.9"/>
<path d="M521.6 1710.50 C565 1740.70, 690 1744.70, 776 1721.20" fill="none" stroke="#1d1d1b" stroke-width="3.4"/>
<path d="M792.40 1713.10 L762.80 1707.00 L774.70 1721.70 L775.90 1737.60 Z" fill="#1d1d1b"/>
<use href="#g_1" x="817.07" y="1678.80" color="#000"/>
<use href="#g_a" x="857.70" y="1678.80" color="#000"/>
<use href="#g_0" x="990.07" y="1678.80" color="#000"/>
<use href="#g_7" x="1030.70" y="1678.80" color="#000"/>
<use href="#g_6" x="1172.60" y="1678.80" color="#000"/>
<use href="#g_8" x="1213.23" y="1678.80" color="#000"/>
<use href="#g_6" x="1294.49" y="1678.80" color="#000"/>
<use href="#g_1" x="1335.12" y="1678.80" color="#000"/>
<use href="#g_6" x="1416.38" y="1678.80" color="#000"/>
<use href="#g_3" x="1457.01" y="1678.80" color="#000"/>
<use href="#g_6" x="1538.27" y="1678.80" color="#000"/>
<use href="#g_b" x="1578.90" y="1678.80" color="#000"/>
<use href="#g_6" x="1660.16" y="1678.80" color="#000"/>
<use href="#g_9" x="1700.79" y="1678.80" color="#000"/>
<use href="#g_6" x="1782.05" y="1678.80" color="#000"/>
<use href="#g_e" x="1822.68" y="1678.80" color="#000"/>
<use href="#g_6" x="1903.94" y="1678.80" color="#000"/>
<use href="#g_7" x="1944.57" y="1678.80" color="#000"/>
<use href="#g_h" x="1191.96" y="1573.50" color="#878787"/>
<use href="#g_a" x="1313.86" y="1573.50" color="#878787"/>
<use href="#g_c" x="1435.74" y="1573.50" color="#878787"/>
<use href="#g_k" x="1557.63" y="1573.50" color="#878787"/>
<use href="#g_i" x="1679.53" y="1573.50" color="#878787"/>
<use href="#g_n" x="1801.41" y="1573.50" color="#878787"/>
<use href="#g_g" x="1923.31" y="1573.50" color="#878787"/>
<text transform="matrix(1.0287,0,0,1,946.18,1573.50)" font-family="&quot;Liberation Sans&quot;, sans-serif" font-size="45.00" fill="#1d1d1b" stroke="#1d1d1b" stroke-width="0.6" stroke-linejoin="round">length 7</text>
<text transform="matrix(0.9674,0,0,1,2351.18,915.90)" font-family="&quot;Liberation Sans&quot;, sans-serif" font-size="64.00" fill="#1d1d1b">1337</text>
<path d="M2040.95 986.20 L2040.95 996.40 C2040.95 1002.07 2045.91 1005.55 2048.95 1005.55 C2051.99 1005.55 2056.95 1002.07 2056.95 996.40 L2056.95 986.20 C2056.95 980.53 2051.99 977.05 2048.95 977.05 C2045.91 977.05 2040.95 980.53 2040.95 986.20 Z" fill="none" stroke="#000" stroke-width="1.9"/>
<path d="M2097.78 986.20 L2097.78 996.40 C2097.78 1002.07 2102.74 1005.55 2105.78 1005.55 C2108.82 1005.55 2113.78 1002.07 2113.78 996.40 L2113.78 986.20 C2113.78 980.53 2108.82 977.05 2105.78 977.05 C2102.74 977.05 2097.78 980.53 2097.78 986.20 Z" fill="none" stroke="#000" stroke-width="1.9"/>
<path d="M2154.61 986.20 L2154.61 996.40 C2154.61 1002.07 2159.57 1005.55 2162.61 1005.55 C2165.65 1005.55 2170.61 1002.07 2170.61 996.40 L2170.61 986.20 C2170.61 980.53 2165.65 977.05 2162.61 977.05 C2159.57 977.05 2154.61 980.53 2154.61 986.20 Z" fill="none" stroke="#000" stroke-width="1.9"/>
<path d="M2210.79 980.65 L2219.49 977.05 L2219.49 1005.55 M2210.49 1005.55 L2228.59 1005.55" fill="none" stroke="#000" stroke-width="1.9" stroke-linejoin="miter"/>
<path d="M2268.27 986.20 L2268.27 996.40 C2268.27 1002.07 2273.23 1005.55 2276.27 1005.55 C2279.31 1005.55 2284.27 1002.07 2284.27 996.40 L2284.27 986.20 C2284.27 980.53 2279.31 977.05 2276.27 977.05 C2273.23 977.05 2268.27 980.53 2268.27 986.20 Z" fill="none" stroke="#000" stroke-width="1.9"/>
<path d="M2324.45 980.65 L2333.15 977.05 L2333.15 1005.55 M2324.15 1005.55 L2342.25 1005.55" fill="none" stroke="#000" stroke-width="1.9" stroke-linejoin="miter"/>
<path d="M2381.93 986.20 L2381.93 996.40 C2381.93 1002.07 2386.89 1005.55 2389.93 1005.55 C2392.97 1005.55 2397.93 1002.07 2397.93 996.40 L2397.93 986.20 C2397.93 980.53 2392.97 977.05 2389.93 977.05 C2386.89 977.05 2381.93 980.53 2381.93 986.20 Z" fill="none" stroke="#000" stroke-width="1.9"/>
<path d="M2438.76 986.20 L2438.76 996.40 C2438.76 1002.07 2443.72 1005.55 2446.76 1005.55 C2449.80 1005.55 2454.76 1002.07 2454.76 996.40 L2454.76 986.20 C2454.76 980.53 2449.80 977.05 2446.76 977.05 C2443.72 977.05 2438.76 980.53 2438.76 986.20 Z" fill="none" stroke="#000" stroke-width="1.9"/>
<path d="M2494.94 980.65 L2503.64 977.05 L2503.64 1005.55 M2494.64 1005.55 L2512.74 1005.55" fill="none" stroke="#000" stroke-width="1.9" stroke-linejoin="miter"/>
<path d="M2551.77 980.65 L2560.47 977.05 L2560.47 1005.55 M2551.47 1005.55 L2569.57 1005.55" fill="none" stroke="#000" stroke-width="1.9" stroke-linejoin="miter"/>
<path d="M2608.60 980.65 L2617.30 977.05 L2617.30 1005.55 M2608.30 1005.55 L2626.40 1005.55" fill="none" stroke="#000" stroke-width="1.9" stroke-linejoin="miter"/>
<path d="M2666.08 986.20 L2666.08 996.40 C2666.08 1002.07 2671.04 1005.55 2674.08 1005.55 C2677.12 1005.55 2682.08 1002.07 2682.08 996.40 L2682.08 986.20 C2682.08 980.53 2677.12 977.05 2674.08 977.05 C2671.04 977.05 2666.08 980.53 2666.08 986.20 Z" fill="none" stroke="#000" stroke-width="1.9"/>
<path d="M2722.91 986.20 L2722.91 996.40 C2722.91 1002.07 2727.87 1005.55 2730.91 1005.55 C2733.95 1005.55 2738.91 1002.07 2738.91 996.40 L2738.91 986.20 C2738.91 980.53 2733.95 977.05 2730.91 977.05 C2727.87 977.05 2722.91 980.53 2722.91 986.20 Z" fill="none" stroke="#000" stroke-width="1.9"/>
<path d="M2779.09 980.65 L2787.79 977.05 L2787.79 1005.55 M2778.79 1005.55 L2796.89 1005.55" fill="none" stroke="#000" stroke-width="1.9" stroke-linejoin="miter"/>
<path d="M1638.20 1183.65 L1646.90 1180.05 L1646.90 1208.75 M1637.90 1208.75 L1656.00 1208.75" fill="none" stroke="#000" stroke-width="1.9" stroke-linejoin="miter"/>
<path d="M1695.75 1189.20 L1695.75 1199.60 C1695.75 1205.27 1700.71 1208.75 1703.75 1208.75 C1706.79 1208.75 1711.75 1205.27 1711.75 1199.60 L1711.75 1189.20 C1711.75 1183.53 1706.79 1180.05 1703.75 1180.05 C1700.71 1180.05 1695.75 1183.53 1695.75 1189.20 Z" fill="none" stroke="#000" stroke-width="1.9"/>
<path d="M1752.00 1183.65 L1760.70 1180.05 L1760.70 1208.75 M1751.70 1208.75 L1769.80 1208.75" fill="none" stroke="#000" stroke-width="1.9" stroke-linejoin="miter"/>
<path d="M1808.90 1183.65 L1817.60 1180.05 L1817.60 1208.75 M1808.60 1208.75 L1826.70 1208.75" fill="none" stroke="#000" stroke-width="1.9" stroke-linejoin="miter"/>
<path d="M1865.80 1183.65 L1874.50 1180.05 L1874.50 1208.75 M1865.50 1208.75 L1883.60 1208.75" fill="none" stroke="#000" stroke-width="1.9" stroke-linejoin="miter"/>
<path d="M1923.35 1189.20 L1923.35 1199.60 C1923.35 1205.27 1928.31 1208.75 1931.35 1208.75 C1934.39 1208.75 1939.35 1205.27 1939.35 1199.60 L1939.35 1189.20 C1939.35 1183.53 1934.39 1180.05 1931.35 1180.05 C1928.31 1180.05 1923.35 1183.53 1923.35 1189.20 Z" fill="none" stroke="#000" stroke-width="1.9"/>
<path d="M1980.25 1189.20 L1980.25 1199.60 C1980.25 1205.27 1985.21 1208.75 1988.25 1208.75 C1991.29 1208.75 1996.25 1205.27 1996.25 1199.60 L1996.25 1189.20 C1996.25 1183.53 1991.29 1180.05 1988.25 1180.05 C1985.21 1180.05 1980.25 1183.53 1980.25 1189.20 Z" fill="none" stroke="#000" stroke-width="1.9"/>
<path d="M2036.50 1183.65 L2045.20 1180.05 L2045.20 1208.75 M2036.20 1208.75 L2054.30 1208.75" fill="none" stroke="#000" stroke-width="1.9" stroke-linejoin="miter"/>
<path d="M2150.95 1189.20 L2150.95 1199.60 C2150.95 1205.27 2155.91 1208.75 2158.95 1208.75 C2161.99 1208.75 2166.95 1205.27 2166.95 1199.60 L2166.95 1189.20 C2166.95 1183.53 2161.99 1180.05 2158.95 1180.05 C2155.91 1180.05 2150.95 1183.53 2150.95 1189.20 Z" fill="none" stroke="#000" stroke-width="1.9"/>
<path d="M2207.85 1189.20 L2207.85 1199.60 C2207.85 1205.27 2212.81 1208.75 2215.85 1208.75 C2218.89 1208.75 2223.85 1205.27 2223.85 1199.60 L2223.85 1189.20 C2223.85 1183.53 2218.89 1180.05 2215.85 1180.05 C2212.81 1180.05 2207.85 1183.53 2207.85 1189.20 Z" fill="none" stroke="#000" stroke-width="1.9"/>
<path d="M2264.75 1189.20 L2264.75 1199.60 C2264.75 1205.27 2269.71 1208.75 2272.75 1208.75 C2275.79 1208.75 2280.75 1205.27 2280.75 1199.60 L2280.75 1189.20 C2280.75 1183.53 2275.79 1180.05 2272.75 1180.05 C2269.71 1180.05 2264.75 1183.53 2264.75 1189.20 Z" fill="none" stroke="#000" stroke-width="1.9"/>
<path d="M2321.65 1189.20 L2321.65 1199.60 C2321.65 1205.27 2326.61 1208.75 2329.65 1208.75 C2332.69 1208.75 2337.65 1205.27 2337.65 1199.60 L2337.65 1189.20 C2337.65 1183.53 2332.69 1180.05 2329.65 1180.05 C2326.61 1180.05 2321.65 1183.53 2321.65 1189.20 Z" fill="none" stroke="#000" stroke-width="1.9"/>
<path d="M2377.90 1183.65 L2386.60 1180.05 L2386.60 1208.75 M2377.60 1208.75 L2395.70 1208.75" fill="none" stroke="#000" stroke-width="1.9" stroke-linejoin="miter"/>
<path d="M2435.45 1189.20 L2435.45 1199.60 C2435.45 1205.27 2440.41 1208.75 2443.45 1208.75 C2446.49 1208.75 2451.45 1205.27 2451.45 1199.60 L2451.45 1189.20 C2451.45 1183.53 2446.49 1180.05 2443.45 1180.05 C2440.41 1180.05 2435.45 1183.53 2435.45 1189.20 Z" fill="none" stroke="#000" stroke-width="1.9"/>
<path d="M2491.70 1183.65 L2500.40 1180.05 L2500.40 1208.75 M2491.40 1208.75 L2509.50 1208.75" fill="none" stroke="#000" stroke-width="1.9" stroke-linejoin="miter"/>
<path d="M2549.25 1189.20 L2549.25 1199.60 C2549.25 1205.27 2554.21 1208.75 2557.25 1208.75 C2560.29 1208.75 2565.25 1205.27 2565.25 1199.60 L2565.25 1189.20 C2565.25 1183.53 2560.29 1180.05 2557.25 1180.05 C2554.21 1180.05 2549.25 1183.53 2549.25 1189.20 Z" fill="none" stroke="#000" stroke-width="1.9"/>
<path d="M2591.8 1034.3 C2591 1046.5, 2575 1057, 2540 1064 C2505 1071, 2420 1076, 2339.4 1079.2 C2200 1086, 2010 1100, 1977 1128.4" fill="none" stroke="#1d1d1b" stroke-width="4.0"/>
<path d="M1964.20 1145.50 L1970.00 1115.60 L1977.00 1128.40 L1994.20 1135.50 Z" fill="#1d1d1b"/>
<path d="M2296.6 1034.3 C2320 1070, 2370 1095, 2393.5 1128.4" fill="none" stroke="#1d1d1b" stroke-width="3.5"/>
<path d="M2405.00 1145.50 L2400.70 1115.60 L2393.50 1128.40 L2376.40 1134.10 Z" fill="#1d1d1b"/>
<path d="M1612.4 1147 C1525 1103, 1400 1116.5, 1238.6 1158.3" fill="none" stroke="#1d1d1b" stroke-width="3.5"/>
<path d="M1217.90 1164.60 L1236.80 1140.30 L1238.60 1158.30 L1248.40 1170.80 Z" fill="#1d1d1b"/>
<path d="M200.00 335.20H2638.00V341.80H200.00Z M200.00 443.60H2638.00V450.20H200.00Z M200.10 335.20H206.70V450.20H200.10Z M322.20 335.20H328.80V450.20H322.20Z M443.60 335.20H450.20V450.20H443.60Z M1176.90 335.20H1183.50V450.20H1176.90Z M1298.50 335.20H1305.10V450.20H1298.50Z M1541.10 335.20H1547.70V450.20H1541.10Z M1662.70 335.20H1669.30V450.20H1662.70Z M1784.70 335.20H1791.30V450.20H1784.70Z M203.00 498.40H1791.00V505.00H203.00Z M203.00 605.80H1791.00V612.40H203.00Z M688.20 498.40H694.80V612.40H688.20Z M810.00 498.40H816.60V612.40H810.00Z M931.80 498.40H938.40V612.40H931.80Z M1784.70 498.40H1791.30V612.40H1784.70Z M46.10 892.00H523.00V895.30H46.10Z M46.10 980.60H523.00V983.90H46.10Z M46.10 892.00H49.40V983.90H46.10Z M519.70 892.00H523.00V983.90H519.70Z M340.35 892.00H343.65V983.90H340.35Z M792.10 869.80H920.90V876.60H792.10Z M792.10 978.60H920.90V985.40H792.10Z M792.10 869.80H798.90V985.40H792.10Z M914.10 869.80H920.90V985.40H914.10Z M965.00 869.80H1092.80V876.60H965.00Z M965.00 978.60H1092.80V985.40H965.00Z M965.00 869.80H971.80V985.40H965.00Z M1086.00 869.80H1092.80V985.40H1086.00Z M1138.00 869.80H1890.00V876.60H1138.00Z M1138.00 978.60H1890.00V985.40H1138.00Z M1138.00 869.80H1144.80V985.40H1138.00Z M1883.20 869.80H1890.00V985.40H1883.20Z M46.10 1134.90H523.00V1138.20H46.10Z M46.10 1223.50H523.00V1226.80H46.10Z M46.10 1134.90H49.40V1226.80H46.10Z M519.70 1134.90H523.00V1226.80H519.70Z M340.35 1134.90H343.65V1226.80H340.35Z M792.10 1112.70H920.90V1119.50H792.10Z M792.10 1221.50H920.90V1228.30H792.10Z M792.10 1112.70H798.90V1228.30H792.10Z M914.10 1112.70H920.90V1228.30H914.10Z M962.10 1112.70H1218.70V1119.50H962.10Z M962.10 1221.50H1218.70V1228.30H962.10Z M962.10 1112.70H968.90V1228.30H962.10Z M1211.90 1112.70H1218.70V1228.30H1211.90Z M46.10 1377.80H523.00V1381.10H46.10Z M46.10 1466.40H523.00V1469.70H46.10Z M46.10 1377.80H49.40V1469.70H46.10Z M519.70 1377.80H523.00V1469.70H519.70Z M340.35 1377.80H343.65V1469.70H340.35Z M792.10 1355.60H920.90V1362.40H792.10Z M792.10 1464.40H920.90V1471.20H792.10Z M792.10 1355.60H798.90V1471.20H792.10Z M914.10 1355.60H920.90V1471.20H914.10Z M962.00 1355.60H1089.90V1362.40H962.00Z M962.00 1464.40H1089.90V1471.20H962.00Z M962.00 1355.60H968.80V1471.20H962.00Z M1083.10 1355.60H1089.90V1471.20H1083.10Z M1138.20 1355.60H2505.80V1362.40H1138.20Z M1138.20 1464.40H2505.80V1471.20H1138.20Z M1138.20 1355.60H1145.00V1471.20H1138.20Z M2499.00 1355.60H2505.80V1471.20H2499.00Z M46.10 1620.70H523.00V1624.00H46.10Z M46.10 1709.30H523.00V1712.60H46.10Z M46.10 1620.70H49.40V1712.60H46.10Z M519.70 1620.70H523.00V1712.60H519.70Z M340.35 1620.70H343.65V1712.60H340.35Z M792.10 1598.50H920.90V1605.30H792.10Z M792.10 1707.30H920.90V1714.10H792.10Z M792.10 1598.50H798.90V1714.10H792.10Z M914.10 1598.50H920.90V1714.10H914.10Z M965.20 1598.50H1093.80V1605.30H965.20Z M965.20 1707.30H1093.80V1714.10H965.20Z M965.20 1598.50H972.00V1714.10H965.20Z M1087.00 1598.50H1093.80V1714.10H1087.00Z M1138.70 1598.50H2018.00V1605.30H1138.70Z M1138.70 1707.30H2018.00V1714.10H1138.70Z M1138.70 1598.50H1145.50V1714.10H1138.70Z M2011.20 1598.50H2018.00V1714.10H2011.20Z M2013.10 942.90H2824.60V946.50H2013.10Z M2013.10 1031.30H2824.60V1034.90H2013.10Z M2013.10 942.90H2016.70V1034.90H2013.10Z M2821.00 942.90H2824.60V1034.90H2821.00Z M2480.80 942.90H2484.20V1034.90H2480.80Z M1612.00 1146.10H2592.90V1149.70H1612.00Z M1612.00 1234.30H2592.90V1237.90H1612.00Z M1612.00 1146.10H1615.60V1237.90H1612.00Z M2589.30 1146.10H2592.90V1237.90H2589.30Z M1675.00 1146.10H1678.00V1237.90H1675.00Z M2071.00 1146.10H2073.80V1237.90H2071.00Z M2128.20 1146.10H2131.80V1237.90H2128.20Z M2185.95 1146.10H2188.85V1237.90H2185.95Z" fill="#1d1d1b"/>
</svg>
</body></html>
